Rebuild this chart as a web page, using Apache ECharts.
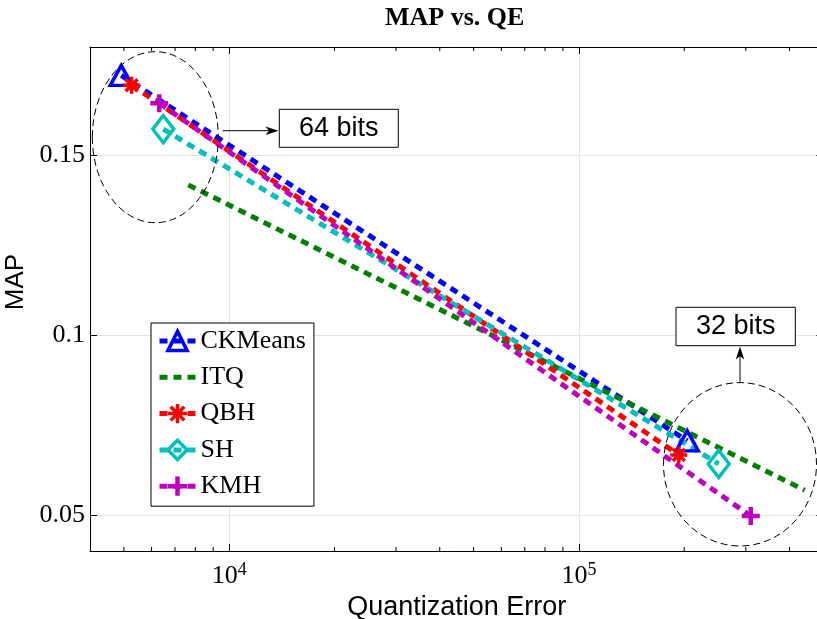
<!DOCTYPE html>
<html><head><meta charset="utf-8">
<script src="https://cdn.jsdelivr.net/npm/echarts@6/dist/echarts.min.js"></script>
<style>html,body{margin:0;padding:0;background:#fff}#c{width:817px;height:619px}</style>
</head><body><div id="c"></div>
<script>
// ---- data ----
const seriesNames = ['CKMeans', 'ITQ', 'QBH', 'SH', 'KMH'];
const ckmeansX = [4914, 204000];
const ckmeansY = [0.1721, 0.0706];
const itqX = [7640, 442000];
const itqY = [0.1417, 0.0569];
const qbhX = [5260, 193000];
const qbhY = [0.1694, 0.0667];
const shX = [6480, 251000];
const shY = [0.1572, 0.0642];
const kmhX = [6310, 310000];
const kmhY = [0.1644, 0.0497];
const xMinorTicks = [5000, 6000, 7000, 8000, 9000, 20000, 30000, 40000, 50000, 60000, 70000, 80000, 90000, 200000, 300000, 400000];
const xRange = [4000, 500000];
const yRange = [0.04, 0.18];

const SERIF = 'Liberation Serif';
const SANS = 'Liberation Sans';
const LW = 5;
const DASH = [8, 6];

function pts(xs, ys) { return xs.map((x, i) => [x, ys[i]]); }
function mk(name, xs, ys, color, symbol, size, bw) {
  return {
    name, type: 'line', data: pts(xs, ys), symbol, symbolSize: size, showSymbol: true,
    lineStyle: { color, width: LW, type: DASH, cap: 'butt' },
    itemStyle: { color: 'rgba(0,0,0,0)', borderColor: bw > 0 ? color : 'rgba(0,0,0,0)', borderWidth: bw },
    emphasis: { disabled: true }, animation: false
  };
}
const asterisk = 'path://M0,-10L0,10M-10,0L10,0M-7.07,-7.07L7.07,7.07M-7.07,7.07L7.07,-7.07';
const plus = 'path://M0,-10L0,10M-10,0L10,0';
const legendBorder = [3.5, 0, 3.5, 3.5, 4.5];

const chart = echarts.init(document.getElementById('c'), null, { renderer: 'canvas' });
chart.setOption({
  animation: false,
  backgroundColor: '#fff',
  title: {
    text: 'MAP vs. QE', left: 385, top: 5, padding: 0,
    textStyle: { fontFamily: SERIF, fontWeight: 'bold', fontSize: 26, color: '#000' }
  },
  grid: { left: 90, top: 47, right: -6.4, bottom: 68, outerBoundsMode: 'none', containLabel: false },
  legend: {
    data: seriesNames.map((n, i) => ({ name: n, itemStyle: { borderWidth: legendBorder[i] }, lineStyle: { width: LW } })),
    orient: 'vertical', left: 151, top: 323,
    padding: [5, 8, 7, 6], itemGap: 10.3, itemWidth: 36, itemHeight: 24,
    backgroundColor: '#fff', borderColor: '#000', borderWidth: 1, borderRadius: 0,
    lineStyle: { width: LW },
    textStyle: { fontFamily: SERIF, fontSize: 26, color: '#000', lineHeight: 24 },
    selectedMode: false
  },
  xAxis: [{
    type: 'log', logBase: 10, min: xRange[0], max: xRange[1], position: 'bottom',
    name: 'Quantization Error', nameLocation: 'middle', nameGap: 30,
    nameTextStyle: { fontFamily: SANS, fontSize: 27, color: '#000' },
    axisLine: { show: true, lineStyle: { color: '#000', width: 1 } },
    axisTick: { show: true, inside: true, length: 7, lineStyle: { color: '#000' } },
    axisLabel: {
      showMinLabel: false, showMaxLabel: false, margin: 10,
      formatter: v => {
        const e = Math.round(Math.log10(v));
        return Math.abs(Math.pow(10, e) - v) < 1e-6 * v ? '{b|10}{s|' + e + '}' : '';
      },
      rich: {
        b: { fontFamily: SERIF, fontSize: 26, color: '#000', padding: [2.4, 0, 0, 0] },
        s: { fontFamily: SERIF, fontSize: 18, color: '#000', verticalAlign: 'top' }
      }
    },
    splitLine: { show: true, lineStyle: { color: '#e3e3e3', width: 1 } }
  }, {
    type: 'log', logBase: 10, min: xRange[0], max: xRange[1], position: 'top',
    axisLine: { show: true, lineStyle: { color: '#000', width: 1 } },
    axisTick: { show: true, inside: true, length: 7, lineStyle: { color: '#000' } },
    axisLabel: { show: false }, splitLine: { show: false }
  }],
  yAxis: [{
    type: 'value', min: yRange[0], max: yRange[1], splitNumber: 3, position: 'left',
    name: 'MAP', nameLocation: 'middle', nameGap: 54,
    nameTextStyle: { fontFamily: SANS, fontSize: 26, color: '#000', padding: [0, 0, 0, 34] },
    axisLine: { show: true, lineStyle: { color: '#000', width: 1 } },
    axisTick: { show: true, inside: true, length: 7, lineStyle: { color: '#000' } },
    axisLabel: { showMinLabel: false, showMaxLabel: false, margin: 5, fontFamily: SERIF, fontSize: 26, color: '#000' },
    splitLine: { show: true, lineStyle: { color: '#e3e3e3', width: 1 } }
  }, {
    type: 'value', min: yRange[0], max: yRange[1], splitNumber: 3, position: 'right',
    axisLine: { show: true, lineStyle: { color: '#000', width: 1 } },
    axisTick: { show: true, inside: true, length: 7, lineStyle: { color: '#000' } },
    axisLabel: { show: false }, splitLine: { show: false }
  }],
  series: [
    mk('CKMeans', ckmeansX, ckmeansY, '#0000ff', 'triangle', [22, 20], 3.5),
    Object.assign(mk('ITQ', itqX, itqY, '#008000', 'circle', 0, 0), { showSymbol: false }),
    mk('QBH', qbhX, qbhY, '#ff0000', asterisk, 17, 3.5),
    mk('SH', shX, shY, '#00bfbf', 'diamond', [21, 27], 3.5),
    mk('KMH', kmhX, kmhY, '#bf00bf', plus, 18, 4.5),
    {
      type: 'custom', silent: true, clip: false, xAxisIndex: 0, yAxisIndex: 0,
      data: xMinorTicks.map(v => [v, 0.1]),
      renderItem: (params, api) => {
        const x = api.coord([api.value(0), api.value(1)])[0];
        const cs = params.coordSys;
        return {
          type: 'group', children: [
            { type: 'line', shape: { x1: x, y1: cs.y + cs.height, x2: x, y2: cs.y + cs.height - 4 }, style: { stroke: '#000', lineWidth: 1 } },
            { type: 'line', shape: { x1: x, y1: cs.y, x2: x, y2: cs.y + 4 }, style: { stroke: '#000', lineWidth: 1 } }
          ]
        };
      }
    }
  ],
  graphic: [
    { type: 'ellipse', shape: { cx: 155.3, cy: 137.2, rx: 63, ry: 85.5 }, style: { fill: 'none', stroke: '#000', lineWidth: 1, lineDash: [7, 4] }, z: 100 },
    { type: 'ellipse', shape: { cx: 740, cy: 464.3, rx: 76.5, ry: 81.7 }, style: { fill: 'none', stroke: '#000', lineWidth: 1, lineDash: [7, 4] }, z: 100 },
    { type: 'line', shape: { x1: 222.7, y1: 130.7, x2: 271, y2: 130.7 }, style: { stroke: '#000', lineWidth: 1 }, z: 100 },
    { type: 'polygon', shape: { points: [[278.5, 130.7], [265.5, 126.5], [269, 130.7], [265.5, 134.9]] }, style: { fill: '#000' }, z: 100 },
    { type: 'rect', shape: { x: 279.3, y: 109.3, width: 119, height: 38 }, style: { fill: '#fff', stroke: '#000', lineWidth: 1 }, z: 100 },
    { type: 'text', x: 338.8, y: 128.3, style: { text: '64 bits', fontFamily: SANS, fontSize: 27, fill: '#000', align: 'center', verticalAlign: 'middle' }, z: 101 },
    { type: 'line', shape: { x1: 740, y1: 381.7, x2: 740, y2: 354 }, style: { stroke: '#000', lineWidth: 1 }, z: 100 },
    { type: 'polygon', shape: { points: [[740, 346.5], [735.8, 359.5], [740, 356], [744.2, 359.5]] }, style: { fill: '#000' }, z: 100 },
    { type: 'rect', shape: { x: 676, y: 307.3, width: 119.3, height: 38.4 }, style: { fill: '#fff', stroke: '#000', lineWidth: 1 }, z: 100 },
    { type: 'text', x: 735.7, y: 326.5, style: { text: '32 bits', fontFamily: SANS, fontSize: 27, fill: '#000', align: 'center', verticalAlign: 'middle' }, z: 101 }
  ]
});
</script></body></html>
